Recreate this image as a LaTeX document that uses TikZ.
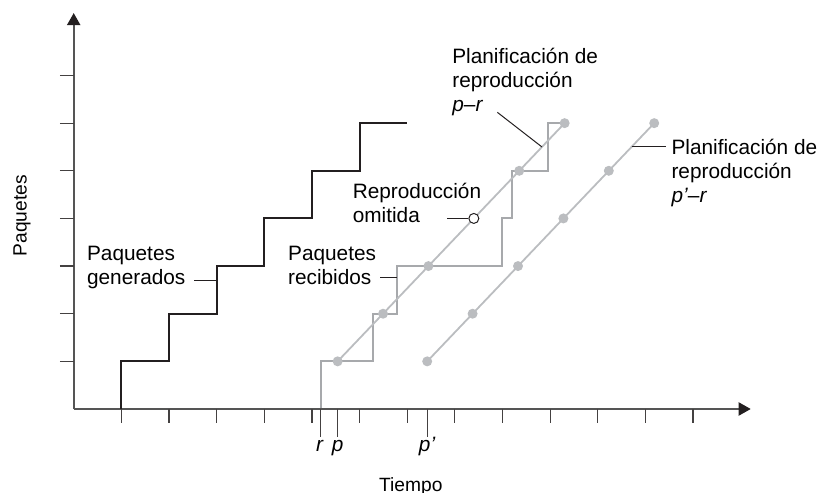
\documentclass[tikz,border=0pt]{standalone}
\usepackage{fontspec}
\setmainfont{Liberation Sans}
\usepackage{tikz}
\usetikzlibrary{arrows.meta,positioning,calc,backgrounds}
\definecolor{ink}{RGB}{35,31,32}
\definecolor{axisgray}{RGB}{85,85,85}
\definecolor{rcv}{RGB}{167,169,172}
\definecolor{plan}{RGB}{187,189,192}

\begin{document}
\begin{tikzpicture}[x=23.82pt,y=23.82pt,>=Stealth,font=\fontsize{10.4}{12}\selectfont]
\tikzset{axis/.style={draw=axisgray,line width=0.8pt},
  tick/.style={draw=ink!85,line width=0.6pt},
  gen/.style={draw=ink,line width=1pt},
  rcvd/.style={draw=rcv,line width=1pt},
  sched/.style={draw=plan,line width=0.9pt},
  dot/.style={circle,fill=plan,minimum size=5pt,inner sep=0pt},
  lost/.style={circle,draw=ink,fill=white,line width=0.5pt,minimum size=5pt,inner sep=0pt},
  lead/.style={draw=ink,line width=0.5pt},
  lab/.style={align=left,anchor=west,inner sep=0pt},
  ttl/.style={font=\fontsize{9.6}{11.5}\selectfont,inner sep=0pt}}
\useasboundingbox (-1.547,-1.763) rectangle (15.665,8.585);
% ejes
\coordinate (O) at (0,0);
\coordinate (ytop) at (0,8.31);
\coordinate (xend) at (14.21,0);
\draw[axis,-{Triangle[length=6pt,width=6.6pt,color=ink]}] (O) -- (ytop);
\draw[axis,-{Triangle[length=6pt,width=6.6pt,color=ink]}] (O) -- (xend);
\foreach \i in {1,...,7} \draw[tick] (-0.29,\i) -- (0,\i);
\foreach \i in {1,...,13} \draw[tick] (\i,0) -- (\i,-0.29);
\foreach \x in {5.185,5.54,7.42} \draw[tick] (\x,0) -- (\x,-0.58);
\node[anchor=base] (rlab) at (5.17,-0.9) {\textit{r}};
\node[anchor=base] (plab) at (5.54,-0.9) {\textit{p}};
\node[anchor=base] (pplab) at (7.42,-0.9) {\textit{p'}};
\node[ttl,anchor=base] (tiempo) at (7.076,-1.732) {Tiempo};
\node[ttl,anchor=base,rotate=90] (paq) at (-0.987,4.055) {Paquetes};
% paquetes generados
\draw[gen] (1,0) |- (2,1) |- (3,2) |- (4,3) |- (5,4) |- (6,5) |- (7,6);
% planificaciones
\foreach \k in {0,1,2,4,5} \node[dot] (a\k) at ({5.54+0.953*\k},{1+\k}) {};
\node[lost] (a3) at ({5.54+0.953*3},4) {};
\foreach \k in {0,...,5} \node[dot] (b\k) at ({7.42+0.953*\k},{1+\k}) {};
\begin{scope}[on background layer]
\draw[rcvd] (5.185,0) |- (6.276,1) |- (6.78,2) |- (8.98,3) |- (9.207,4) |- (9.963,5) |- (a5.center);
\draw[sched] (a0.center) -- (a5.center);
\draw[sched] (b0.center) -- (b5.center);
\end{scope}
% rotulos
\node[lab] (gen) at (0.273,2.964) {Paquetes\\generados};
\node[lab] (rec) at (4.493,3.012) {Paquetes\\recibidos};
\node[lab] (omit) at (5.85,4.328) {Reproducción\\omitida};
\node[lab] (plan1) at (7.94,6.868) {Planificación de\\reproducción\\\textit{p}–\textit{r}};
\node[lab] (plan2) at (12.54,4.946) {Planificación de\\reproducción\\\textit{p'}–\textit{r}};
\coordinate (genL) at (2.532,2.687);\coordinate (genE) at (3,2.687);
\coordinate (recL) at (6.43,2.756);\coordinate (recE) at (6.78,2.756);
\coordinate (omitL) at (7.842,4);
\coordinate (plan1L) at (8.893,6.227);
\coordinate (plan2E) at (12.44,5.5);
\draw[lead] (genL) -- (genE);
\draw[lead] (recL) -- (recE);
\draw[lead] (omitL) -- (a3);
\draw[lead] (plan1L) -- ($(a4)!0.5!(a5)$);
\draw[lead] ($(b4)!0.5!(b5)$) -- (plan2E);
\end{tikzpicture}
\end{document}
